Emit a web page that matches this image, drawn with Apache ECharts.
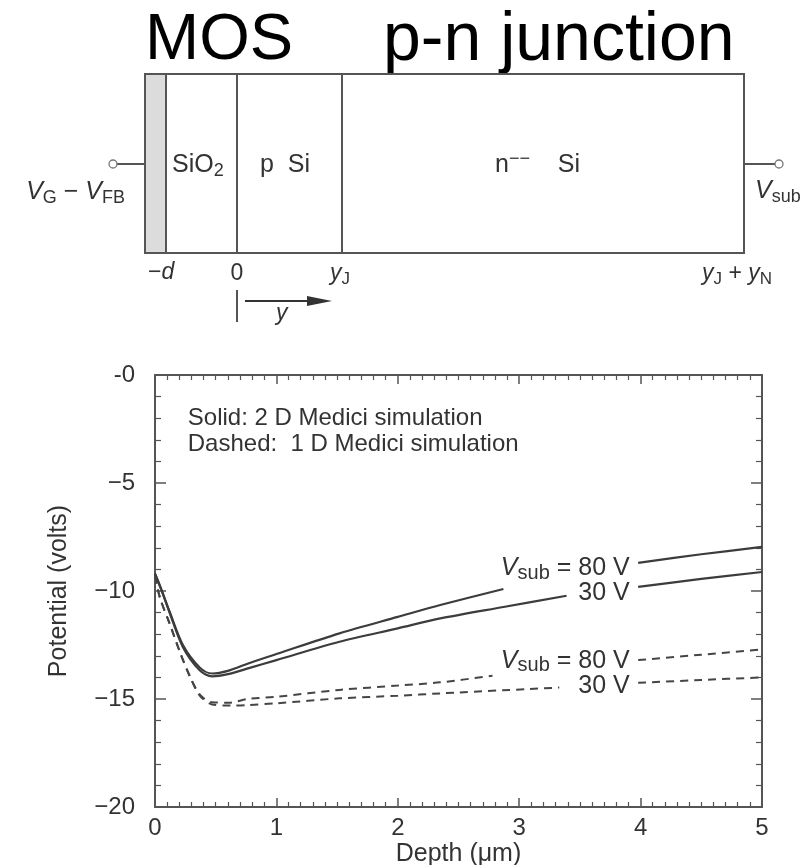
<!DOCTYPE html>
<html>
<head>
<meta charset="utf-8">
<script src="https://cdn.jsdelivr.net/npm/echarts@6/dist/echarts.min.js"></script>
<style>
html,body{margin:0;padding:0;background:#fff;}
#chart{width:812px;height:865px;}
</style>
</head>
<body>
<div id="chart"></div>
<script>
// ---- data ----
const xTicks = [0, 1, 2, 3, 4, 5];
const yTicks = [0, -5, -10, -15, -20];

// Solid: 2 D Medici simulation, Vsub = 80 V (null = gap behind label)
const solid80Depth     = [0, 0.05, 0.12, 0.23, 0.37, 0.47, 0.6, 0.78, 1.0, 1.52, 2.0, 2.35, 2.87, 3.4, 3.98, 4.5, 5.0];
const solid80Potential = [-9.2, -9.9, -10.95, -12.5, -13.55, -13.82, -13.7, -13.33, -12.92, -11.96, -11.2, -10.65, -9.91, null, -8.7, -8.3, -7.96];
// Solid, Vsub = 30 V
const solid30Depth     = [0, 0.05, 0.12, 0.23, 0.37, 0.47, 0.6, 0.78, 1.0, 1.52, 2.0, 2.35, 2.87, 3.39, 3.7, 3.98, 4.5, 5.0];
const solid30Potential = [-9.2, -9.9, -11.0, -12.6, -13.68, -13.95, -13.85, -13.56, -13.2, -12.35, -11.73, -11.27, -10.74, -10.22, null, -9.81, -9.44, -9.12];
// Dashed: 1 D Medici simulation, Vsub = 80 V
const dashed80Depth     = [0, 0.04, 0.12, 0.21, 0.29, 0.37, 0.47, 0.62, 0.76, 1.0, 1.52, 2.0, 2.35, 2.78, 3.4, 3.98, 4.5, 5.0];
const dashed80Potential = [-9.3, -10.3, -11.5, -12.9, -13.97, -14.8, -15.15, -15.17, -15.0, -14.9, -14.58, -14.38, -14.23, -13.92, null, -13.2, -12.95, -12.7];
// Dashed, Vsub = 30 V
const dashed30Depth     = [0, 0.04, 0.12, 0.21, 0.29, 0.37, 0.47, 0.62, 0.76, 1.0, 1.52, 2.0, 2.35, 3.33, 3.7, 3.98, 4.5, 5.0];
const dashed30Potential = [-9.3, -10.3, -11.5, -12.9, -14.0, -14.85, -15.25, -15.3, -15.28, -15.2, -14.97, -14.85, -14.74, -14.47, null, -14.25, -14.12, -14.0];

const curveLabels = ['V_sub = 80 V', '30 V', 'V_sub = 80 V', '30 V'];
const notes = ['Solid: 2 D Medici simulation', 'Dashed:  1 D Medici simulation'];

// ---- helpers ----
const FONT = "'Liberation Sans', Arial, Helvetica, sans-serif";
const AX = '#555';
const TXT = '#333';
function pairs(xs, ys) { return xs.map((x, i) => [x, ys[i]]); }

const chart = echarts.init(document.getElementById('chart'));

function axisCommon(extra) {
  return Object.assign({
    type: 'value',
    axisLine: { show: true, onZero: false, lineStyle: { color: AX, width: 2 } },
    splitLine: { show: false },
    nameTextStyle: { fontFamily: FONT, fontSize: 25, color: TXT }
  }, extra);
}

const option = {
  animation: false,
  backgroundColor: '#fff',
  grid: { left: 155, right: 50, top: 375, bottom: 58, containLabel: false, outerBoundsMode: 'none' },
  xAxis: [
    axisCommon({
      min: xTicks[0], max: xTicks[xTicks.length - 1], interval: 1, position: 'bottom',
      axisTick: { inside: true, length: 9, lineStyle: { color: AX, width: 1.5 } },
      minorTick: { show: true, splitNumber: 10, length: 5, lineStyle: { color: AX, width: 1.2 } },
      axisLabel: { fontFamily: FONT, fontSize: 24, color: TXT, margin: 9 },
      name: 'Depth (μm)', nameLocation: 'middle', nameGap: 35
    }),
    axisCommon({
      min: xTicks[0], max: xTicks[xTicks.length - 1], interval: 1, position: 'top',
      axisTick: { inside: true, length: 9, lineStyle: { color: AX, width: 1.5 } },
      minorTick: { show: true, splitNumber: 10, length: 5, lineStyle: { color: AX, width: 1.2 } },
      axisLabel: { show: false }
    })
  ],
  yAxis: [
    axisCommon({
      min: yTicks[yTicks.length - 1], max: yTicks[0], interval: 5, position: 'left',
      axisTick: { inside: true, length: 11, lineStyle: { color: AX, width: 1.5 } },
      minorTick: { show: true, splitNumber: 5, length: 6, lineStyle: { color: AX, width: 1.2 } },
      axisLabel: {
        fontFamily: FONT, fontSize: 24, color: TXT, margin: 20,
        formatter: v => v === 0 ? '-0' : '\u2212' + Math.abs(v)
      },
      name: 'Potential (volts)', nameLocation: 'middle', nameGap: 83, nameRotate: 90
    }),
    axisCommon({
      min: yTicks[yTicks.length - 1], max: yTicks[0], interval: 5, position: 'right',
      axisTick: { inside: true, length: 11, lineStyle: { color: AX, width: 1.5 } },
      minorTick: { show: true, splitNumber: 5, length: 6, lineStyle: { color: AX, width: 1.2 } },
      axisLabel: { show: false }
    })
  ],
  series: [
    { name: 'solid80', data: pairs(solid80Depth, solid80Potential), solid: true },
    { name: 'solid30', data: pairs(solid30Depth, solid30Potential), solid: true },
    { name: 'dashed80', data: pairs(dashed80Depth, dashed80Potential), solid: false },
    { name: 'dashed30', data: pairs(dashed30Depth, dashed30Potential), solid: false }
  ].map(s => ({
    type: 'line', name: s.name, data: s.data, xAxisIndex: 0, yAxisIndex: 0,
    showSymbol: false, symbol: 'none', smooth: 0.3, connectNulls: false,
    lineStyle: s.solid ? { color: '#3c3c3c', width: 2.2 } : { color: '#454545', width: 2, type: [8, 6] },
    z: 3
  }))
};
chart.setOption(option);

// ---- annotations (placed in data coordinates) ----
const labelAnchors = [[3.91, -8.94], [3.91, -10.09], [3.91, -13.24], [3.91, -14.4]];
const noteAnchors = [[0.27, -1.99], [0.27, -3.22]];
const richLabel = {
  v: { fontFamily: FONT, fontSize: 25, fontStyle: 'italic', lineHeight: 30, fill: TXT },
  s: { fontFamily: FONT, fontSize: 20, lineHeight: 20, verticalAlign: 'bottom', fill: TXT },
  t: { fontFamily: FONT, fontSize: 25, lineHeight: 30, fill: TXT }
};
function labelText(str) {
  if (str.indexOf('V_sub') === 0) return '{v|V}{s|sub}{t|' + str.slice(5) + '}';
  return '{t|' + str + '}';
}
const g = [];
curveLabels.forEach((l, i) => {
  const p = chart.convertToPixel({ gridIndex: 0 }, labelAnchors[i]);
  g.push({ type: 'text', x: p[0], y: p[1], z: 10,
    style: { text: labelText(l), rich: richLabel, align: 'right', verticalAlign: 'middle' } });
});
notes.forEach((n, i) => {
  const p = chart.convertToPixel({ gridIndex: 0 }, noteAnchors[i]);
  g.push({ type: 'text', x: p[0], y: p[1], z: 10,
    style: { text: n, fontFamily: FONT, fontSize: 24, fill: TXT, align: 'left', verticalAlign: 'middle' } });
});

// ---- schematic of the MOS / p-n junction structure ----
const LC = '#555';
const richD = {
  i: { fontFamily: FONT, fontSize: 25, fontStyle: 'italic', lineHeight: 30, fill: TXT },
  n: { fontFamily: FONT, fontSize: 25, lineHeight: 30, fill: TXT },
  s: { fontFamily: FONT, fontSize: 18, lineHeight: 18, verticalAlign: 'bottom', fill: TXT },
  u: { fontFamily: FONT, fontSize: 18, lineHeight: 18, verticalAlign: 'top', fill: TXT },
  bi: { fontFamily: FONT, fontSize: 23, fontStyle: 'italic', lineHeight: 28, fill: TXT },
  bn: { fontFamily: FONT, fontSize: 23, lineHeight: 28, fill: TXT },
  bs: { fontFamily: FONT, fontSize: 17, lineHeight: 17, verticalAlign: 'bottom', fill: TXT }
};
function dtext(x, y, text, align) {
  return { type: 'text', x: x, y: y, z: 10,
    style: { text: text, rich: richD, align: align || 'left', verticalAlign: 'middle' } };
}
g.push(
  { type: 'text', x: 145, y: 41, style: { text: 'MOS', fontFamily: FONT, fontSize: 65, fill: '#000', align: 'left', verticalAlign: 'middle' } },
  { type: 'text', x: 383, y: 41, style: { text: 'p-n junction', fontFamily: FONT, fontSize: 68, fill: '#000', align: 'left', verticalAlign: 'middle' } },
  { type: 'rect', shape: { x: 145, y: 74, width: 21, height: 179 }, style: { fill: '#dcdcdc', stroke: null } },
  { type: 'rect', shape: { x: 145, y: 74, width: 599, height: 179 }, style: { fill: null, stroke: LC, lineWidth: 2 }, z: 5 },
  { type: 'line', shape: { x1: 166, y1: 74, x2: 166, y2: 253 }, style: { stroke: LC, lineWidth: 2 } },
  { type: 'line', shape: { x1: 237, y1: 74, x2: 237, y2: 253 }, style: { stroke: LC, lineWidth: 2 } },
  { type: 'line', shape: { x1: 342, y1: 74, x2: 342, y2: 253 }, style: { stroke: LC, lineWidth: 2 } },
  { type: 'line', shape: { x1: 117, y1: 164, x2: 145, y2: 164 }, style: { stroke: LC, lineWidth: 2 } },
  { type: 'circle', shape: { cx: 113, cy: 164, r: 4 }, style: { fill: '#fff', stroke: '#777', lineWidth: 1.3 } },
  { type: 'line', shape: { x1: 744, y1: 164, x2: 775, y2: 164 }, style: { stroke: LC, lineWidth: 2 } },
  { type: 'circle', shape: { cx: 779, cy: 164, r: 4 }, style: { fill: '#fff', stroke: '#777', lineWidth: 1.3 } },
  dtext(172, 165, '{n|SiO}{s|2}'),
  dtext(260, 165, '{n|p  Si}'),
  dtext(495, 165, '{n|n}{u|\u2212\u2212}{n|    Si}'),
  dtext(125, 192, '{i|V}{s|G}{n| \u2212 }{i|V}{s|FB}', 'right'),
  dtext(755, 191, '{i|V}{s|sub}'),
  dtext(148, 273, '{bn|\u2212}{bi|d}'),
  dtext(237, 274, '{bn|0}', 'center'),
  dtext(330, 274, '{bi|y}{bs|J}'),
  dtext(702, 274, '{bi|y}{bs|J}{bn| + }{bi|y}{bs|N}'),
  { type: 'line', shape: { x1: 237, y1: 290, x2: 237, y2: 322 }, style: { stroke: LC, lineWidth: 2 } },
  { type: 'line', shape: { x1: 245, y1: 301, x2: 312, y2: 301 }, style: { stroke: '#333', lineWidth: 2 } },
  { type: 'polygon', shape: { points: [[307, 296], [332, 301], [307, 306]] }, style: { fill: '#333' } },
  dtext(276, 314, '{bi|y}')
);
chart.setOption({ graphic: g });
</script>
</body>
</html>
